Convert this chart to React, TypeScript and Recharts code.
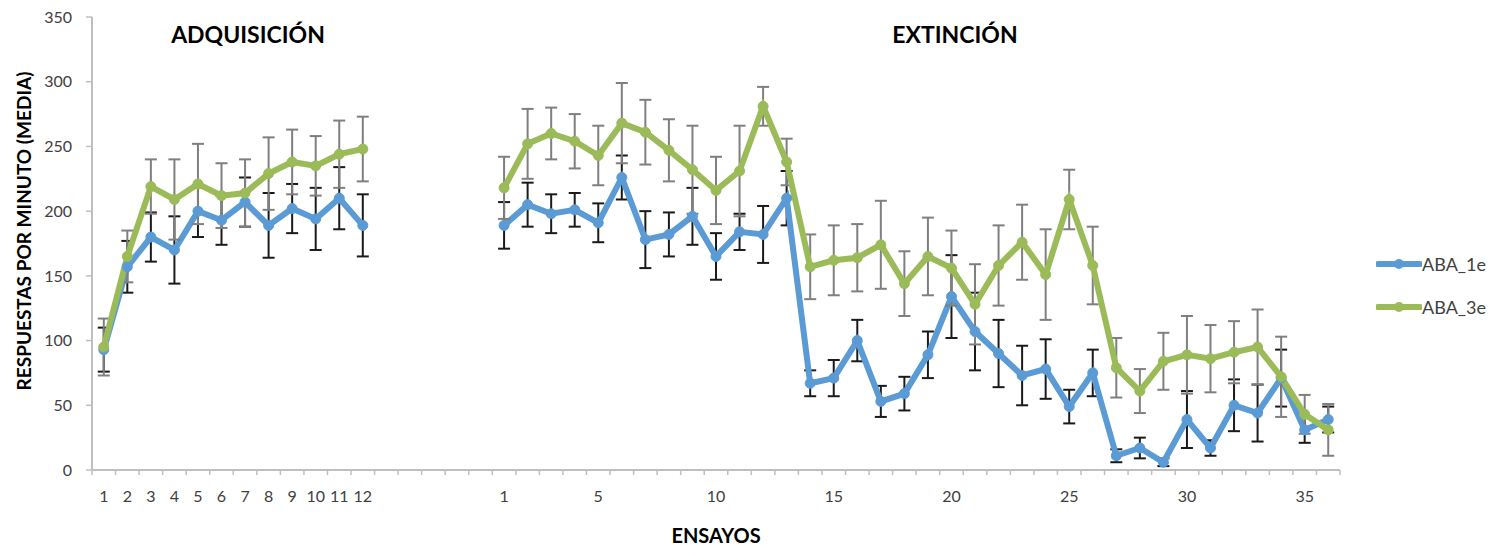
import { LineChart, Line, XAxis, YAxis, ErrorBar } from 'recharts';

// categories
const acqTrials = ['1', '2', '3', '4', '5', '6', '7', '8', '9', '10', '11', '12'];
const extTrials = Array.from({ length: 36 }, (_, i) => String(i + 1));
const extShown = ['1', '5', '10', '15', '20', '25', '30', '35'];
const GAP = 5;
const yTicks = [0, 50, 100, 150, 200, 250, 300, 350];

// ABA_1e
const aba1eAcq = [93, 157, 180, 170, 200, 193, 207, 189, 202, 194, 210, 189];
const aba1eAcqErr = [17, 20, 19, 26, 20, 19, 19, 25, 19, 24, 24, 24];
const aba1eExt = [189, 205, 198, 201, 191, 226, 178, 182, 196, 165, 184, 182, 210, 67, 71, 100, 53, 59,
  89, 134, 107, 90, 73, 78, 49, 75, 11, 17, 6, 39, 17, 50, 44, 71, 31, 39];
const aba1eExtErr = [18, 17, 15, 13, 15, 17, 22, 17, 22, 18, 14, 22, 21, 10, 14, 16, 12, 13,
  18, 32, 30, 26, 23, 23, 13, 18, 5, 8, 3, 22, 6, 20, 22, 22, 10, 10];

// ABA_3e
const aba3eAcq = [95, 165, 219, 209, 221, 212, 214, 229, 238, 235, 244, 248];
const aba3eAcqErr = [22, 20, 21, 31, 31, 25, 26, 28, 25, 23, 26, 25];
const aba3eExt = [218, 252, 260, 254, 243, 268, 261, 247, 232, 216, 231, 281, 238, 157, 162, 164, 174, 144,
  165, 156, 128, 158, 176, 151, 209, 158, 79, 61, 84, 89, 86, 91, 95, 72, 43, 31];
const aba3eExtErr = [24, 27, 20, 21, 23, 31, 25, 24, 34, 26, 35, 15, 18, 25, 27, 26, 34, 25,
  30, 29, 31, 31, 29, 35, 23, 30, 23, 17, 22, 30, 26, 24, 29, 31, 15, 20];

const BLUE = '#5B9BD5';
const GREEN = '#9BBB59';
const AXIS = '#BFBFBF';
const TEXT = '#404040';
const FONT = 'Lato, "Open Sans", sans-serif';

interface Row {
  key: string;
  label: string;
  aba1e: number | null;
  aba1eErr: number | null;
  aba3e: number | null;
  aba3eErr: number | null;
}

const data: Row[] = [
  ...acqTrials.map((t, i) => ({
    key: `a${t}`, label: t,
    aba1e: aba1eAcq[i], aba1eErr: aba1eAcqErr[i],
    aba3e: aba3eAcq[i], aba3eErr: aba3eAcqErr[i],
  })),
  ...Array.from({ length: GAP }, (_, i) => ({
    key: `g${i}`, label: '', aba1e: null, aba1eErr: null, aba3e: null, aba3eErr: null,
  })),
  ...extTrials.map((t, i) => ({
    key: `e${t}`, label: extShown.includes(t) ? t : '',
    aba1e: aba1eExt[i], aba1eErr: aba1eExtErr[i],
    aba3e: aba3eExt[i], aba3eErr: aba3eExtErr[i],
  })),
];

const labelByKey: Record<string, string> = {};
data.forEach((d) => { labelByKey[d.key] = d.label; });

const W = 1493;
const H = 545;
const LEFT = 92;
const RIGHT = 153;
const PLOT_W = W - LEFT - RIGHT;
const BW = PLOT_W / data.length;

function CatTick(props: any) {
  const { x, y, payload, index } = props;
  const last = index === data.length - 1;
  return (
    <g>
      <line x1={x - BW / 2} x2={x - BW / 2} y1={y} y2={y + 5} stroke={AXIS} strokeWidth={1.5} />
      {last && <line x1={x + BW / 2} x2={x + BW / 2} y1={y} y2={y + 5} stroke={AXIS} strokeWidth={1.5} />}
      <text x={x} y={y + 32} textAnchor="middle" fontSize={16} fill={TEXT} fontFamily={FONT}>
        {labelByKey[payload.value]}
      </text>
    </g>
  );
}

function LegendItem({ color, name, top }: { color: string; name: string; top: number }) {
  return (
    <div style={{ position: 'absolute', left: 1376, top: top - 12, height: 24, display: 'flex', alignItems: 'center' }}>
      <svg width={46} height={24}>
        <line x1={2} x2={44} y1={12} y2={12} stroke={color} strokeWidth={6} strokeLinecap="round" />
        <circle cx={23} cy={12} r={5} fill={color} />
      </svg>
      <span style={{ fontFamily: FONT, fontSize: 18, color: TEXT }}>{name}</span>
    </div>
  );
}

export default function App() {
  const title = { position: 'absolute' as const, fontFamily: FONT, fontWeight: 700, color: '#000', whiteSpace: 'nowrap' as const };
  return (
    <div style={{ position: 'absolute', left: 0, top: 0, width: W, height: H, background: '#fff' }}>
      <LineChart width={W} height={H} data={data} margin={{ top: 17, right: RIGHT, bottom: 45, left: 0 }}>
        <XAxis
          dataKey="key"
          height={30}
          interval={0}
          padding={{ left: BW / 2, right: BW / 2 }}
          tickLine={false}
          tickSize={0}
          tickMargin={0}
          axisLine={{ stroke: AXIS, strokeWidth: 2 }}
          tick={<CatTick />}
        />
        <YAxis
          width={LEFT}
          domain={[0, 350]}
          ticks={yTicks}
          tickSize={6}
          tickMargin={14}
          axisLine={{ stroke: AXIS, strokeWidth: 2 }}
          tickLine={{ stroke: AXIS, strokeWidth: 1.5 }}
          tick={{ fontSize: 16, fill: TEXT, fontFamily: FONT }}
        />
        <Line
          dataKey="aba1e"
          name="ABA_1e"
          stroke={BLUE}
          strokeWidth={6}
          dot={{ r: 5, fill: BLUE, stroke: BLUE, strokeWidth: 1 }}
          isAnimationActive={false}
        >
          <ErrorBar dataKey="aba1eErr" direction="y" width={6} stroke="#1A1A1A" strokeWidth={2} />
        </Line>
        <Line
          dataKey="aba3e"
          name="ABA_3e"
          stroke={GREEN}
          strokeWidth={6}
          dot={{ r: 5, fill: GREEN, stroke: GREEN, strokeWidth: 1 }}
          isAnimationActive={false}
        >
          <ErrorBar dataKey="aba3eErr" direction="y" width={6} stroke="#7F7F7F" strokeWidth={2} />
        </Line>
      </LineChart>

      <div style={{ ...title, left: 248, top: 34, transform: 'translate(-50%, -50%)', fontSize: 23 }}>ADQUISICIÓN</div>
      <div style={{ ...title, left: 955, top: 34, transform: 'translate(-50%, -50%)', fontSize: 23 }}>EXTINCIÓN</div>
      <div style={{ ...title, left: 716, top: 535, transform: 'translate(-50%, -50%)', fontSize: 20 }}>ENSAYOS</div>
      <div style={{ ...title, left: 23, top: 231, transform: 'translate(-50%, -50%) rotate(-90deg)', fontSize: 19 }}>
        RESPUESTAS POR MINUTO (MEDIA)
      </div>

      <LegendItem color={BLUE} name="ABA_1e" top={264} />
      <LegendItem color={GREEN} name="ABA_3e" top={307} />
    </div>
  );
}
